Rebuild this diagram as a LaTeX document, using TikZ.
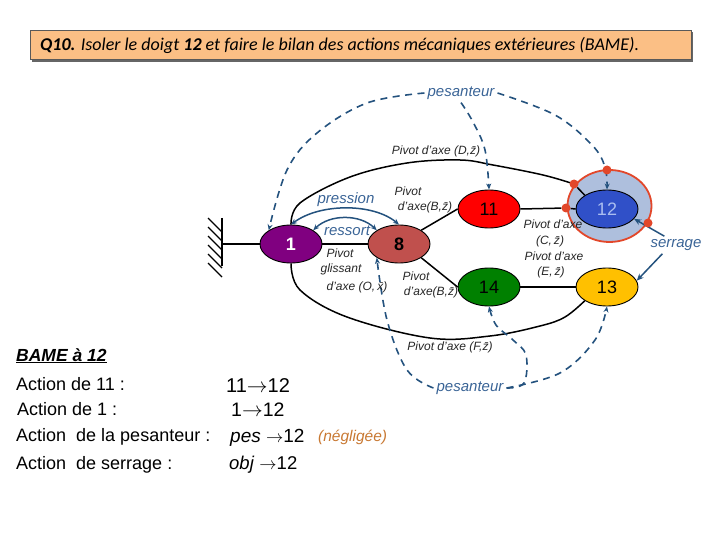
\documentclass[tikz,border=0pt]{standalone}
\usepackage{fontspec}
\setmainfont{Liberation Sans}
\newfontfamily\carl{Carlito}
\usetikzlibrary{arrows.meta,shapes.geometric}
\pgfdeclarelayer{halolayer}
\pgfdeclarelayer{linklayer}
\pgfsetlayers{halolayer,linklayer,main}
\definecolor{dashblue}{HTML}{24527E}
\definecolor{lblue}{HTML}{3A6496}
\definecolor{titlefill}{HTML}{FBBF85}
\definecolor{halo}{HTML}{AEBFDD}
\definecolor{halored}{HTML}{E2472A}
\definecolor{partone}{HTML}{800080}
\definecolor{parteight}{HTML}{C0504D}
\definecolor{parttwelve}{HTML}{3050C8}
\definecolor{twelvetext}{HTML}{AABEF0}
\definecolor{partfourteen}{HTML}{008000}
\definecolor{partthirteen}{HTML}{FFC000}
\definecolor{negcol}{HTML}{C87832}
\newcommand{\zb}{\=z}
\tikzset{
  x=1pt,y=-1pt,
  part/.style={ellipse,draw=black,line width=0.9pt,minimum width=62pt,minimum height=38pt,inner sep=0pt,font=\fontsize{18}{18}\selectfont},
  link/.style={line width=1.5pt,black},
  dashlink/.style={dashblue,line width=1.6pt,dash pattern=on 7pt off 5.5pt,-{Stealth[length=6pt,width=5pt]}},
  actlink/.style={dashblue,line width=1.5pt,{Stealth[length=6pt,width=5pt]}-{Stealth[length=6pt,width=5pt]}},
  serr/.style={dashblue,line width=1.5pt,-{Stealth[length=7pt,width=6pt]}},
  dot/.style={circle,fill=halored,inner sep=0pt,minimum size=9pt},
  jl/.style={font=\fontsize{12}{12}\selectfont\itshape,inner sep=0pt,text=black!85},
  bl/.style={font=\fontsize{15}{15}\selectfont\itshape,inner sep=3pt,text=lblue},
  tx/.style={anchor=base west,inner sep=0pt,font=\fontsize{18}{18}\selectfont},
  rel/.style={anchor=base west,inner sep=0pt,font=\fontsize{20}{20}\selectfont},
}
\begin{document}
\begin{tikzpicture}
\useasboundingbox (0,0) rectangle (720,540);
% title
\fill[gray!80!black] (32,32) rectangle (693,62);
\node[draw=gray!70!black,fill=titlefill,minimum width=661pt,minimum height=29pt,inner sep=0pt,line width=0.6pt] (title) at (361,45) {};
\node[anchor=west,inner sep=0pt,font=\carl\fontsize{18}{18}\selectfont\itshape] (titletext) at (40,45) {\textbf{Q10.} Isoler le doigt \textbf{12} et faire le bilan des actions mécaniques extérieures (BAME).};
% halo
\begin{pgfonlayer}{halolayer}
\node[ellipse,draw=halored,fill=halo,line width=1.8pt,minimum width=84pt,minimum height=72pt,inner sep=0pt] (halo) at (609.5,206) {};
\end{pgfonlayer}
% parts
\node[part,fill=partone,text=white,font=\fontsize{18}{18}\selectfont\bfseries] (n1) at (291,244) {1};
\node[part,fill=parteight,font=\fontsize{18}{18}\selectfont\bfseries] (n8) at (399,244) {8};
\node[part,fill=red] (n11) at (489,209) {11};
\node[part,fill=parttwelve,text=twelvetext] (n12) at (607,209) {12};
\node[part,fill=partfourteen] (n14) at (489,287) {14};
\node[part,fill=partthirteen] (n13) at (607,287) {13};
% dots
\node[dot] (d1) at (574,184) {};
\node[dot] (d3) at (566,208) {};
% ground
\coordinate (g) at (222,244);
\coordinate (gt) at (222,218);
\coordinate (gb) at (222,266);
\draw[link] (gt) -- (gb);
\foreach \y in {218,227,236,245,254,263}
  \draw[line width=1.3pt] (222,\y+14) -- (208,\y);
% links
\begin{pgfonlayer}{linklayer}
\draw[link] (g) -- (n1.west);
\draw[link] (n1.east) -- (n8.west);
\draw[link] (n8.north east) -- (n11.west);
\draw[link] (n8.south east) -- (n14.west);
\draw[link] (n11.east) -- (d3);
\draw[link] (d3) -- (n12.west);
\draw[link] (n14.east) -- (n13.west);
\draw[link] plot[smooth,tension=0.6] coordinates {(n1.north) (300,203) (350,177) (407,163) (460,160) (493,165) (543,175) (d1)};
\draw[link] (d1) -- (n12.north west);
\draw[link] plot[smooth,tension=0.6] coordinates {(n1.south) (300,290) (347,317) (430,338) (490,336) (540,326) (565,317) (n13.south west)};
\end{pgfonlayer}
% action arcs
\draw[actlink] (n1.north) .. controls (320,203) and (373,203) .. (n8.north);
\draw[actlink] (n1.north east) .. controls (330,214) and (360,214) .. (n8.north west);
% labels
\node[bl] (ptop) at (461,93) {pesanteur};
\node[bl] (pbot) at (470,388) {pesanteur};
\node[bl,inner sep=0pt] (serrage) at (676,245) {serrage};
\node[bl,inner sep=0pt] (pression) at (346,200) {pression};
\node[bl,inner sep=0pt] (ressort) at (347,231) {ressort};
% dashed
\draw[dashlink] plot[smooth,tension=0.6] coordinates {(ptop.west) (367,103) (317,133) (287,170) (n1.north west)};
\draw[dashlink] plot[smooth,tension=0.6] coordinates {(ptop.east) (555,115) (592,145) (605,167) (n12.north)};
\draw[dashlink] plot[smooth,tension=0.6] coordinates {(ptop.south) (473,122) (485,150) (n11.north)};
\draw[dashlink] plot[smooth,tension=0.6] coordinates {(pbot.west) (407,370) (387,320) (n8.south west)};
\draw[dashlink] plot[smooth,tension=0.6] coordinates {(pbot.east) (524,383) (526,355) (513,340) (496,325) (n14.south)};
\draw[dashlink] plot[smooth,tension=0.6] coordinates {(pbot.east) (560,373) (595,340) (n13.south)};
% serrage arrows
\draw[serr] (serrage.north west) ++(14,-3) -- (n12.-20);
\draw[serr] (serrage.south west) ++(12,3) -- (n13.12);
\node[dot] (d4) at (648,223) {};
\node[dot] (d2) at (607,170) {};
% joint labels
\node[jl] (jd) at (436,151) {Pivot d'axe (D,\zb)};
\node[jl] (jb1) at (408,191) {Pivot};
\node[jl] (jb2) at (425,207) {d'axe(B,\zb)};
\node[jl] (jc1) at (553,224) {Pivot d'axe};
\node[jl] (jc2) at (550,241) {(C,\,\zb)};
\node[jl] (je1) at (554,256) {Pivot d'axe};
\node[jl] (je2) at (551,272) {(E,\,\zb)};
\node[jl] (jo1) at (340,253) {Pivot};
\node[jl] (jo2) at (341,269) {glissant};
\node[jl] (jo3) at (357,287) {d'axe (O,\,\=x)};
\node[jl] (jf1) at (416,276) {Pivot};
\node[jl] (jf2) at (431,292) {d'axe(B,\zb)};
\node[jl] (jf) at (450,347) {Pivot d'axe (F,\zb)};
% BAME
\node[tx,font=\fontsize{17.5}{18}\selectfont\bfseries\itshape] (bame) at (16,361) {\underline{BAME à 12}};
\node[tx] (a1) at (16,390) {Action de 11 :};
\node[tx] (a2) at (17,415) {Action de 1 :};
\node[tx] (a3) at (16,441) {Action\ \ de la pesanteur :};
\node[tx] (a4) at (16,469) {Action\ \ de serrage :};
\node[rel] (r1) at (226,392) {11$\rightarrow$12};
\node[rel,font=\fontsize{19.5}{20}\selectfont] (r2) at (231,416) {1$\rightarrow$12};
\node[rel,font=\fontsize{19}{19}\selectfont] (r3) at (230,442) {\textit{pes} $\rightarrow$12};
\node[rel,font=\fontsize{18.5}{19}\selectfont] (r4) at (229,469) {\textit{obj} $\rightarrow$12};
\node[anchor=base west,inner sep=0pt,font=\fontsize{15.5}{15}\selectfont\itshape,text=negcol] (neg) at (318,441) {(négligée)};
\end{tikzpicture}
\end{document}
